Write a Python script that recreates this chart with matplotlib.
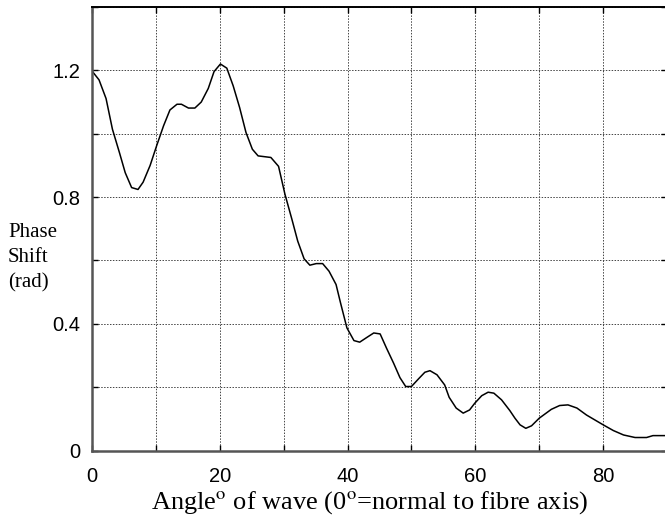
import matplotlib.pyplot as plt
from matplotlib.ticker import MultipleLocator

# angle (deg) and phase shift (rad)
angle = [0.0, 1.1, 2.2, 3.2, 4.3, 5.2, 6.2, 7.2, 8.0, 9.1, 10.1, 11.2, 12.2,
         13.3, 14.0, 15.1, 16.1, 17.1, 18.2, 19.1, 20.1, 21.1, 22.1, 23.1,
         24.1, 25.1, 26.0, 28.0, 29.2, 30.2, 31.3, 32.2, 33.2, 34.1, 35.1,
         36.1, 37.1, 38.2, 38.9, 39.9, 41.0, 41.9, 43.1, 44.1, 45.1, 46.1,
         47.2, 48.2, 49.1, 50.0, 51.1, 52.1, 52.9, 54.0, 55.2, 55.9, 57.0,
         58.1, 59.1, 59.9, 61.0, 62.0, 62.9, 64.1, 65.4, 66.2, 67.0, 67.9,
         68.8, 70.0, 71.9, 73.2, 74.5, 75.9, 77.4, 79.0, 80.1, 81.6, 83.2,
         85.0, 86.8, 87.8, 90.0]
phase = [1.198, 1.170, 1.111, 1.014, 0.940, 0.877, 0.830, 0.824, 0.847, 0.900,
         0.961, 1.025, 1.075, 1.093, 1.093, 1.081, 1.081, 1.100, 1.143, 1.196,
         1.220, 1.207, 1.151, 1.083, 1.004, 0.951, 0.930, 0.925, 0.897, 0.809,
         0.729, 0.661, 0.605, 0.585, 0.590, 0.590, 0.566, 0.524, 0.466, 0.387,
         0.347, 0.342, 0.358, 0.371, 0.368, 0.323, 0.276, 0.230, 0.202, 0.202,
         0.226, 0.247, 0.252, 0.239, 0.207, 0.168, 0.134, 0.118, 0.128, 0.149,
         0.173, 0.184, 0.181, 0.160, 0.126, 0.102, 0.081, 0.070, 0.078, 0.102,
         0.130, 0.142, 0.144, 0.134, 0.112, 0.093, 0.080, 0.063, 0.049, 0.041,
         0.041, 0.047, 0.047]

x_labels = [0, 20, 40, 60, 80]
y_labels = [0, 0.4, 0.8, 1.2]

plt.rcParams['mathtext.fontset'] = 'stix'

fig = plt.figure(figsize=(6.65, 5.16), dpi=100)
ax = fig.add_axes([92 / 665, 65.5 / 516, 575 / 665, 443.5 / 516])

ax.plot(angle, phase, color='black', linewidth=1.1)

ax.set_xlim(0, 90)
ax.set_ylim(0, 1.4)
ax.set_xticks(x_labels)
ax.set_xticklabels([str(v) for v in x_labels])
ax.xaxis.set_minor_locator(MultipleLocator(10))
ax.set_yticks(y_labels)
ax.set_yticklabels(['0', '0.4', '0.8', '1.2'])
ax.yaxis.set_minor_locator(MultipleLocator(0.2))

ax.grid(which='both', color='#444444', linestyle=(0, (1.5, 1.5)), linewidth=0.7)
ax.tick_params(which='both', direction='in', top=True, right=True,
               length=4, width=1, labelsize=14.5)
ax.tick_params(axis='x', pad=12)
ax.tick_params(axis='y', pad=8.5)
for lab in ax.get_xticklabels() + ax.get_yticklabels():
    lab.set_fontfamily('Liberation Sans')

ax.spines['right'].set_visible(False)
ax.spines['left'].set_color('#555555')
ax.spines['left'].set_linewidth(1.8)
ax.spines['bottom'].set_color('#555555')
ax.spines['bottom'].set_linewidth(1.8)
ax.spines['top'].set_linewidth(1.4)

ax.set_xlabel(r'Angle$^{\mathrm{o}}$ of wave (0$^{\mathrm{o}}$=normal to fibre axis)',
              fontfamily='Liberation Serif', fontsize=19)
ax.xaxis.set_label_coords(0.483, -0.087)
fig.text(8 / 665, 0.5, 'Phase\nShift\n(rad)', fontfamily='Liberation Serif',
         fontsize=15, ha='left', va='center', linespacing=1.43)

fig.savefig('out.png', dpi=100)
